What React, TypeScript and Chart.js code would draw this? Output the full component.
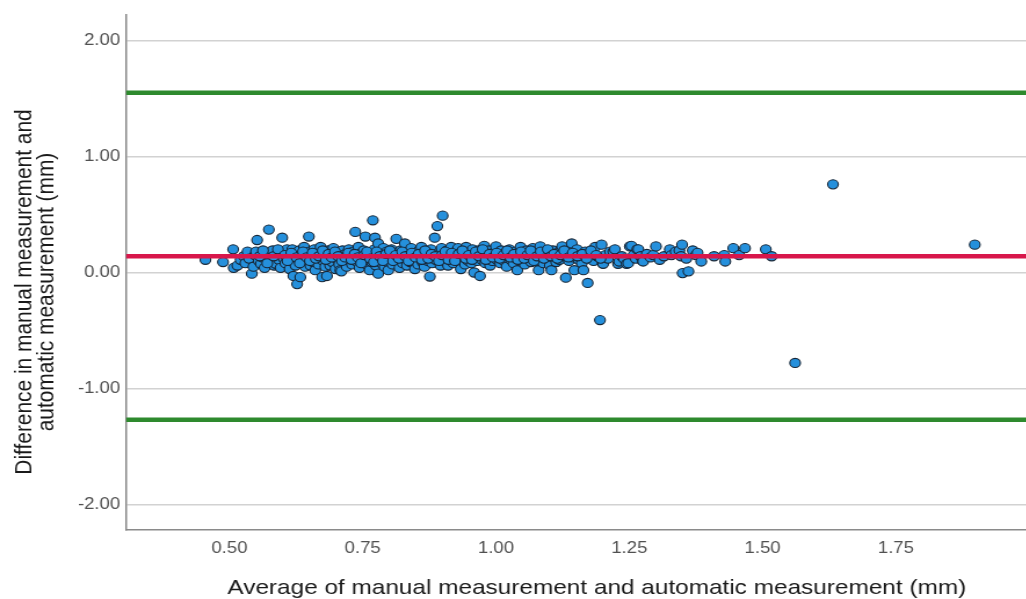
import React, { useEffect, useRef } from "react";
import { Chart, registerables } from "chart.js";

Chart.register(...registerables);

// Axis ticks and ranges
const xTickValues = [0.5, 0.75, 1.0, 1.25, 1.5, 1.75];
const yTickValues = [-2, -1, 0, 1, 2];
const xMin = 0.306;
const xMax = 2.072;
const yMin = -2.22;
const yMax = 2.22;

// Bland-Altman reference lines
const meanDiff = 0.14;
const upperLoA = 1.55;
const lowerLoA = -1.27;

const xTitle = "Average of manual measurement and automatic measurement (mm)";
const yTitle = ["Difference in manual measurement and", "automatic measurement (mm)"];

// [average, difference]
const clusterPoints: [number, number][] = [
  [0.455, 0.11], [0.488, 0.09], [0.507, 0.2], [0.508, 0.04], [0.515, 0.06], [0.521, 0.11],
  [0.527, 0.14], [0.53, 0.08], [0.534, 0.18], [0.537, 0.12], [0.542, -0.01], [0.545, 0.05],
  [0.548, 0.15], [0.55, 0.18], [0.552, 0.28], [0.555, 0.1], [0.559, 0.075], [0.562, 0.13],
  [0.566, 0.04], [0.569, 0.16], [0.574, 0.37], [0.576, 0.09], [0.578, 0.12], [0.581, 0.19],
  [0.584, 0.06], [0.587, 0.075], [0.59, 0.15], [0.593, 0.11], [0.596, 0.04], [0.599, 0.3],
  [0.6, 0.17], [0.602, 0.12], [0.605, 0.08], [0.608, 0.2], [0.611, 0.14], [0.613, 0.03],
  [0.615, 0.1], [0.618, 0.2], [0.62, -0.03], [0.622, 0.16], [0.624, 0.06], [0.627, -0.1],
  [0.629, 0.12], [0.631, 0.19], [0.633, -0.04], [0.635, 0.09], [0.637, 0.15], [0.64, 0.22],
  [0.642, 0.05], [0.644, 0.11], [0.646, 0.15], [0.649, 0.31], [0.65, 0.18], [0.652, 0.06],
  [0.655, 0.13], [0.657, 0.09], [0.659, 0.2], [0.661, 0.02], [0.663, 0.16], [0.665, 0.11],
  [0.667, 0.07], [0.669, 0.18], [0.671, 0.22], [0.673, 0.13], [0.674, -0.04], [0.676, 0.1],
  [0.678, 0.16], [0.68, 0.05], [0.683, -0.03], [0.685, 0.19], [0.687, 0.12], [0.689, 0.06],
  [0.691, 0.15], [0.693, 0.09], [0.695, 0.21], [0.697, 0.13], [0.699, 0.03], [0.701, 0.17],
  [0.703, 0.11], [0.706, 0.07], [0.708, 0.15], [0.708, 0.02], [0.71, 0.01], [0.712, 0.19],
  [0.714, 0.12], [0.716, 0.09], [0.718, 0.16], [0.72, 0.05], [0.722, 0.13], [0.724, 0.2],
  [0.726, 0.1], [0.728, 0.14], [0.73, 0.07], [0.732, 0.18], [0.734, 0.12], [0.736, 0.35],
  [0.738, 0.15], [0.74, 0.09], [0.742, 0.22], [0.744, 0.04], [0.746, 0.13], [0.748, 0.17],
  [0.75, 0.1], [0.752, 0.19], [0.755, 0.31], [0.757, 0.07], [0.759, 0.14], [0.761, 0.11],
  [0.763, 0.02], [0.765, 0.16], [0.767, 0.09], [0.769, 0.45], [0.77, 0.13], [0.772, 0.2],
  [0.773, 0.3], [0.775, 0.06], [0.777, 0.15], [0.779, 0.25], [0.779, -0.01], [0.781, 0.11],
  [0.783, 0.17], [0.785, 0.08], [0.787, 0.14], [0.789, 0.21], [0.791, 0.05], [0.793, 0.12],
  [0.795, 0.18], [0.797, 0.09], [0.798, 0.02], [0.8, 0.15], [0.802, 0.11], [0.804, 0.2],
  [0.806, 0.07], [0.808, 0.13], [0.81, 0.17], [0.813, 0.29], [0.815, 0.1], [0.817, 0.14],
  [0.819, 0.04], [0.821, 0.19], [0.823, 0.12], [0.825, 0.08], [0.827, 0.16], [0.829, 0.25],
  [0.831, 0.11], [0.833, 0.06], [0.835, 0.18], [0.837, 0.13], [0.839, 0.09], [0.841, 0.21],
  [0.843, 0.15], [0.845, 0.1], [0.848, 0.03], [0.85, 0.17], [0.852, 0.12], [0.854, 0.07],
  [0.856, 0.19], [0.858, 0.14], [0.86, 0.22], [0.862, 0.09], [0.864, 0.16], [0.866, 0.05],
  [0.868, 0.12], [0.87, 0.18], [0.872, 0.1], [0.874, 0.14], [0.876, -0.035], [0.878, 0.2],
  [0.88, 0.08], [0.882, 0.15], [0.885, 0.3], [0.887, 0.11], [0.89, 0.4], [0.892, 0.17],
  [0.894, 0.13], [0.896, 0.06], [0.898, 0.21], [0.9, 0.49], [0.902, 0.12], [0.904, 0.16],
  [0.906, 0.09], [0.908, 0.19], [0.91, 0.06], [0.912, 0.14], [0.914, 0.11], [0.916, 0.22],
  [0.918, 0.15], [0.92, 0.08], [0.922, 0.13], [0.925, 0.18], [0.927, 0.1], [0.929, 0.21],
  [0.931, 0.14], [0.934, 0.03], [0.936, 0.16], [0.938, 0.12], [0.94, 0.19], [0.942, 0.07],
  [0.944, 0.22], [0.946, 0.13], [0.948, 0.1], [0.95, 0.17], [0.952, 0.14], [0.954, 0.08],
  [0.956, 0.2], [0.959, 0.0], [0.961, 0.12], [0.963, 0.16], [0.965, 0.1], [0.967, 0.19],
  [0.97, -0.03], [0.972, 0.14], [0.974, 0.11], [0.976, 0.17], [0.978, 0.23], [0.98, 0.08],
  [0.982, 0.15], [0.985, 0.12], [0.987, 0.19], [0.989, 0.06], [0.991, 0.14], [0.993, 0.1],
  [0.995, 0.17], [0.997, 0.13], [1.0, 0.225], [1.002, 0.11], [1.005, 0.16], [1.008, 0.08],
  [1.01, 0.19], [1.012, 0.13], [1.015, 0.1], [1.018, 0.17], [1.02, 0.05], [1.022, 0.14],
  [1.025, 0.2], [1.028, 0.11], [1.03, 0.15], [1.033, 0.08], [1.036, 0.18], [1.038, 0.12],
  [1.04, 0.02], [1.043, 0.16], [1.046, 0.22], [1.048, 0.1], [1.051, 0.14], [1.054, 0.07],
  [1.057, 0.19], [1.06, 0.12], [1.063, 0.16], [1.066, 0.09], [1.069, 0.21], [1.072, 0.13],
  [1.075, 0.17], [1.078, 0.1], [1.08, 0.02], [1.083, 0.225], [1.086, 0.14], [1.089, 0.08],
  [1.092, 0.18], [1.095, 0.12], [1.098, 0.16], [1.101, 0.06], [1.104, 0.02], [1.107, 0.19],
  [1.11, 0.13], [1.113, 0.09], [1.116, 0.17], [1.119, 0.11], [1.122, 0.2], [1.124, 0.225],
  [1.127, 0.14], [1.131, -0.045], [1.134, 0.16], [1.137, 0.1], [1.14, 0.19], [1.142, 0.25],
  [1.145, 0.13], [1.147, 0.02], [1.15, 0.17], [1.152, 0.2], [1.155, 0.11], [1.158, 0.15],
  [1.161, 0.08], [1.164, 0.02], [1.167, 0.18], [1.172, -0.09], [1.175, 0.13], [1.179, 0.16],
  [1.183, 0.1], [1.186, 0.22], [1.19, 0.14], [1.198, 0.24], [1.2, 0.08], [1.201, 0.075],
  [1.205, 0.15], [1.21, 0.12], [1.214, 0.18], [1.22, 0.18], [1.223, 0.2], [1.229, 0.075],
  [1.231, 0.095], [1.236, 0.14], [1.24, 0.12], [1.245, 0.075], [1.248, 0.08], [1.251, 0.225],
  [1.254, 0.23], [1.258, 0.15], [1.262, 0.12], [1.265, 0.2], [1.267, 0.2], [1.271, 0.14],
  [1.275, 0.1], [1.276, 0.095], [1.283, 0.16], [1.29, 0.13], [1.295, 0.15], [1.3, 0.225],
  [1.307, 0.11], [1.315, 0.14], [1.326, 0.2], [1.329, 0.15], [1.337, 0.18], [1.344, 0.19],
  [1.349, 0.24], [1.347, 0.14], [1.35, -0.005], [1.357, 0.12], [1.361, 0.01], [1.369, 0.19],
  [1.375, 0.15], [1.378, 0.17], [1.385, 0.095], [1.409, 0.14], [1.428, 0.15], [1.43, 0.095],
  [1.445, 0.21], [1.456, 0.15], [1.467, 0.21], [1.506, 0.2], [1.517, 0.14],
];

// extra points packed in the dense core of the band
const densePoints: [number, number][] = [
  [0.557, 0.14], [0.563, 0.19], [0.571, 0.08], [0.583, 0.14], [0.591, 0.2], [0.604, 0.15],
  [0.609, 0.1], [0.616, 0.17], [0.626, 0.13], [0.632, 0.08], [0.638, 0.18], [0.645, 0.13],
  [0.651, 0.1], [0.656, 0.17], [0.662, 0.12], [0.668, 0.14], [0.675, 0.19], [0.681, 0.11],
  [0.686, 0.16], [0.692, 0.13], [0.698, 0.18], [0.704, 0.14], [0.711, 0.1], [0.717, 0.13],
  [0.723, 0.17], [0.729, 0.11], [0.735, 0.16], [0.741, 0.13], [0.747, 0.08], [0.753, 0.15],
  [0.758, 0.18], [0.764, 0.12], [0.771, 0.09], [0.776, 0.18], [0.782, 0.14], [0.788, 0.1],
  [0.794, 0.16], [0.801, 0.19], [0.807, 0.1], [0.812, 0.15], [0.818, 0.12], [0.824, 0.18],
  [0.83, 0.14], [0.836, 0.1], [0.842, 0.17], [0.849, 0.13], [0.855, 0.16], [0.861, 0.11],
  [0.867, 0.19], [0.873, 0.12], [0.879, 0.16], [0.886, 0.14], [0.893, 0.1], [0.899, 0.15],
  [0.905, 0.18], [0.911, 0.11], [0.917, 0.17], [0.923, 0.1], [0.93, 0.16], [0.937, 0.19],
  [0.943, 0.12], [0.949, 0.15], [0.955, 0.11], [0.962, 0.18], [0.968, 0.14], [0.975, 0.2],
  [0.981, 0.11], [0.988, 0.16], [0.994, 0.13], [1.001, 0.17], [1.007, 0.12], [1.014, 0.15],
  [1.021, 0.19], [1.027, 0.13], [1.034, 0.16], [1.041, 0.11], [1.047, 0.18], [1.053, 0.12],
  [1.059, 0.15], [1.065, 0.19], [1.071, 0.1], [1.077, 0.14], [1.084, 0.18], [1.09, 0.12],
  [1.097, 0.2], [1.103, 0.14], [1.109, 0.16], [1.115, 0.12], [1.121, 0.15], [1.128, 0.19],
  [1.136, 0.13], [1.144, 0.17], [1.153, 0.14], [1.162, 0.16], [1.17, 0.12], [1.178, 0.19],
  [1.188, 0.15], [1.196, 0.12],
];

const outlierPoints: [number, number][] = [
  [1.195, -0.41], [1.561, -0.78], [1.632, 0.76], [1.898, 0.24],
];

// Layout (canvas drawn narrower then stretched horizontally like the source picture)
const STRETCH = 1.16;
const CANVAS_W = 926;
const CANVAS_H = 599;

const FONT = "'Liberation Sans', Arial, Helvetica, sans-serif";

// y-axis title lines: baseline x and centre y, in canvas pixels
const yTitleBaselineX = [27.3, 46];
const yTitleCenterY = 292;

const yTitlePlugin = {
  id: "yTitleTwoLines",
  afterDraw(chart: any) {
    const ctx = chart.ctx as CanvasRenderingContext2D;
    ctx.save();
    ctx.fillStyle = "#1a1a1a";
    ctx.font = `20.9px ${FONT}`;
    ctx.textAlign = "center";
    ctx.textBaseline = "alphabetic";
    yTitle.forEach((line, i) => {
      ctx.save();
      ctx.translate(yTitleBaselineX[i], yTitleCenterY);
      ctx.rotate(-Math.PI / 2);
      ctx.fillText(line, 0, 0);
      ctx.restore();
    });
    ctx.restore();
  },
};

export default function App() {
  const canvasRef = useRef<HTMLCanvasElement | null>(null);

  useEffect(() => {
    const canvas = canvasRef.current;
    if (!canvas) return;
    const toXY = (arr: [number, number][]) => arr.map(([x, y]) => ({ x, y }));
    const hLine = (v: number) => [
      { x: xMin, y: v },
      { x: xMax, y: v },
    ];

    const chart = new Chart(canvas, {
      type: "scatter",
      data: {
        datasets: [
          {
            label: "Mean",
            data: hLine(meanDiff),
            showLine: true,
            borderColor: "#D8174B",
            borderWidth: 4.5,
            pointRadius: 0,
            order: 0,
          },
          {
            label: "Upper LoA",
            data: hLine(upperLoA),
            showLine: true,
            borderColor: "#2E8A2E",
            borderWidth: 4.5,
            pointRadius: 0,
            order: 0,
          },
          {
            label: "Lower LoA",
            data: hLine(lowerLoA),
            showLine: true,
            borderColor: "#2E8A2E",
            borderWidth: 4.5,
            pointRadius: 0,
            order: 0,
          },
          {
            label: "Measurements",
            data: toXY([...clusterPoints, ...densePoints, ...outlierPoints]),
            backgroundColor: "#2590DC",
            borderColor: "#172636",
            borderWidth: 1.1,
            pointRadius: 4.6,
            order: 1,
          },
        ],
      },
      options: {
        responsive: false,
        animation: false,
        devicePixelRatio: 1,
        layout: { padding: { top: 15, right: 0, left: 0, bottom: 0 } },
        plugins: {
          legend: { display: false },
          tooltip: { enabled: false },
        },
        scales: {
          x: {
            type: "linear",
            min: xMin,
            max: xMax,
            afterBuildTicks: (scale: any) => {
              scale.ticks = xTickValues.map((v) => ({ value: v }));
            },
            afterFit: (scale: any) => {
              scale.height = 69;
            },
            ticks: {
              callback: (v: any) => Number(v).toFixed(2),
              color: "#505050",
              font: { family: FONT, size: 16 },
              padding: 9,
              maxRotation: 0,
            },
            grid: { display: false, drawTicks: false },
            border: { display: true, color: "#8a8a8a", width: 1.5 },
            title: {
              display: true,
              text: xTitle,
              color: "#1a1a1a",
              font: { family: FONT, size: 21, lineHeight: 1.0 },
              padding: { top: 0, bottom: 0 },
            },
          },
          y: {
            type: "linear",
            min: yMin,
            max: yMax,
            afterBuildTicks: (scale: any) => {
              scale.ticks = yTickValues.map((v) => ({ value: v }));
            },
            afterFit: (scale: any) => {
              scale.width = 108.6;
            },
            ticks: {
              callback: (v: any) => Number(v).toFixed(2),
              color: "#505050",
              font: { family: FONT, size: 16 },
              padding: 5,
            },
            grid: { color: "#d2d2d2", lineWidth: 1.5, drawTicks: false },
            border: { display: true, color: "#8a8a8a", width: 1.5 },
            title: { display: false },
          },
        },
      },
      plugins: [yTitlePlugin],
    });
    return () => chart.destroy();
  }, []);

  return (
    <div
      style={{
        position: "fixed",
        left: 0,
        top: 0,
        width: 1026,
        height: 599,
        overflow: "hidden",
        background: "#ffffff",
      }}
    >
      <canvas
        ref={canvasRef}
        width={CANVAS_W}
        height={CANVAS_H}
        style={{
          transform: `scaleX(${STRETCH})`,
          transformOrigin: "0 0",
          display: "block",
        }}
      />
    </div>
  );
}
